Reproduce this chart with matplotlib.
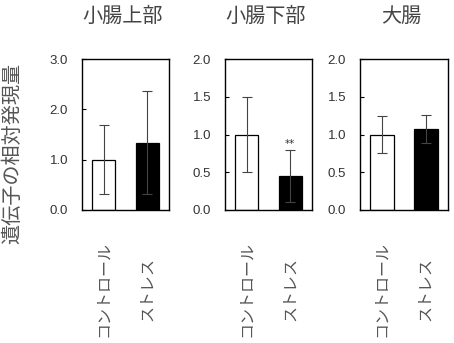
import matplotlib
matplotlib.use("Agg")
import matplotlib.pyplot as plt
import matplotlib.transforms as mtransforms

plt.rcParams["font.family"] = ["Noto Sans CJK JP", "DejaVu Sans"]

groups = ["コントロール", "ストレス"]
regions = ["小腸上部", "小腸下部", "大腸"]
means = [[1.0, 1.34], [1.0, 0.45], [1.0, 1.07]]
errors = [[0.69, 1.02], [0.50, 0.34], [0.25, 0.185]]
ymax = [3.0, 2.0, 2.0]
yticks = [[0.0, 1.0, 2.0, 3.0], [0.0, 0.5, 1.0, 1.5, 2.0], [0.0, 0.5, 1.0, 1.5, 2.0]]
marks = [["", ""], ["", "**"], ["", ""]]
colors = ["white", "black"]

fig = plt.figure(figsize=(4.54, 3.43), dpi=100)
lefts = [82, 225, 360]
widths = [87, 87, 88]
W, H = 454, 343

for i in range(3):
    ax = fig.add_axes([lefts[i] / W, 1 - 210 / H, widths[i] / W, 151 / H])
    x = range(len(groups))
    ax.bar(x, means[i], width=0.53, color=colors, edgecolor="black", linewidth=0.9, zorder=2)
    ax.errorbar(x, means[i], yerr=errors[i], fmt="none", ecolor="#444444",
                elinewidth=0.8, capsize=3.5, capthick=0.8, zorder=3)
    for j, m in enumerate(marks[i]):
        if m:
            ax.text(j, means[i][j] + errors[i][j] + 0.02, m, ha="center", va="bottom",
                    fontsize=7.5, color="#333333", family="DejaVu Sans")
    ax.set_xlim(-0.5, 1.5)
    ax.set_ylim(0, ymax[i])
    ax.set_yticks(yticks[i])
    ax.set_yticklabels([f"{v:.1f}" for v in yticks[i]], family="Liberation Sans",
                       fontsize=9.5, color="#333333")
    ax.tick_params(axis="y", direction="in", length=3, width=0.8, pad=10)
    ax.set_xticks([])
    for s in ax.spines.values():
        s.set_linewidth(1.0)
    # vertical category labels, centred below each bar
    trans = mtransforms.blended_transform_factory(ax.transData, ax.transAxes)
    for j, g in enumerate(groups):
        ax.text(j, -0.52, g, rotation=90, ha="center", va="center", transform=trans,
                fontsize=11.5, color="#555555")
    fig.text((lefts[i] + widths[i] / 2 - 3) / W, 1 - 16 / H, regions[i],
             ha="center", va="center", fontsize=14.5, color="#444444")

fig.text(13 / W, 1 - 153 / H, "遺伝子の相対発現量", rotation=90, ha="center",
         va="center", fontsize=14.5, color="#555555")

fig.savefig("out.png", dpi=100)
